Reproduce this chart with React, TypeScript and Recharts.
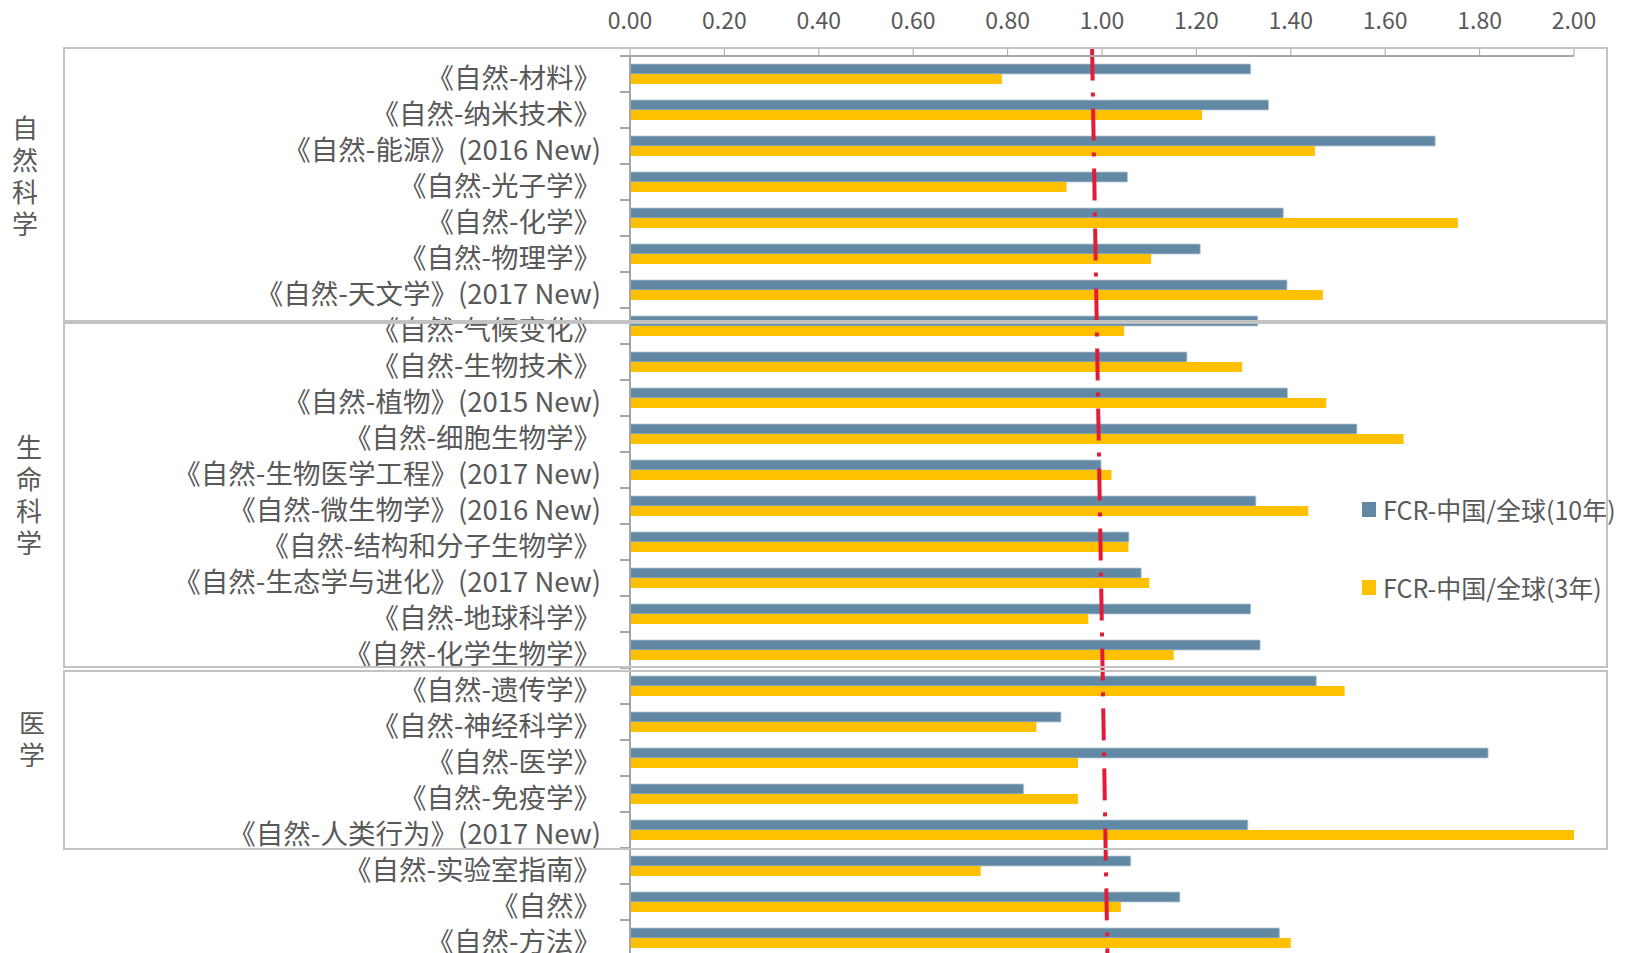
import React from "react";
import { Bar, BarChart, ReferenceLine, XAxis, YAxis } from "recharts";

// journal names, top to bottom
const CATEGORIES = [
  "《自然-材料》",
  "《自然-纳米技术》",
  "《自然-能源》(2016 New)",
  "《自然-光子学》",
  "《自然-化学》",
  "《自然-物理学》",
  "《自然-天文学》(2017 New)",
  "《自然-气候变化》",
  "《自然-生物技术》",
  "《自然-植物》(2015 New)",
  "《自然-细胞生物学》",
  "《自然-生物医学工程》(2017 New)",
  "《自然-微生物学》(2016 New)",
  "《自然-结构和分子生物学》",
  "《自然-生态学与进化》(2017 New)",
  "《自然-地球科学》",
  "《自然-化学生物学》",
  "《自然-遗传学》",
  "《自然-神经科学》",
  "《自然-医学》",
  "《自然-免疫学》",
  "《自然-人类行为》(2017 New)",
  "《自然-实验室指南》",
  "《自然》",
  "《自然-方法》",
];

const FCR_10Y = [
  1.315, 1.353, 1.706, 1.054, 1.384, 1.208, 1.392, 1.33, 1.18, 1.393, 1.54, 0.998, 1.326,
  1.057, 1.083, 1.315, 1.335, 1.454, 0.913, 1.818, 0.834, 1.309, 1.061, 1.165, 1.376,
];

const FCR_3Y = [
  0.788, 1.212, 1.451, 0.925, 1.754, 1.104, 1.468, 1.047, 1.297, 1.475, 1.639, 1.02, 1.437,
  1.056, 1.1, 0.971, 1.152, 1.514, 0.861, 0.949, 0.949, 2.0, 0.743, 1.04, 1.4,
];

const X_TICKS = [0, 0.2, 0.4, 0.6, 0.8, 1.0, 1.2, 1.4, 1.6, 1.8, 2.0];

const SERIES_10Y = "FCR-中国/全球(10年)";
const SERIES_3Y = "FCR-中国/全球(3年)";

// the hand-drawn "1.0" marker, slightly tilted; y in row units (0 = top of plot)
const MARKER_TOP = { x: 0.979, y: -0.2 };
const MARKER_BOTTOM = { x: 1.012, y: 24.35 };

const GROUP_NAMES = ["自然科学", "生命科学", "医学"];

const BLUE = "#6189a4";
const YELLOW = "#ffc000";
const TEXT = "#595959";
const AXIS = "#a6a6a6";
const FRAME = "#c3c3c3";
const FONT = '"Noto Sans CJK SC", "Noto Sans", sans-serif';

const BAND = 36;
const PLOT_TOP = 56;

// frames around the three subject groups, and where their vertical captions sit
const FRAMES = [
  { top: 47, bottom: 322 },
  { top: 322, bottom: 668 },
  { top: 670, bottom: 850 },
];
const CAPTIONS = [
  { cx: 25, firstY: 127 },
  { cx: 29, firstY: 446 },
  { cx: 32, firstY: 722 },
];

const data = CATEGORIES.map((name, i) => ({
  name,
  fcr10: FCR_10Y[i],
  fcr3: FCR_3Y[i],
}));

function CategoryTick(props: any) {
  const { x, y, payload, index } = props;
  return (
    <g>
      {index === 0 && <line x1={x - 10} x2={x} y1={y - BAND / 2} y2={y - BAND / 2} stroke={AXIS} strokeWidth={2} />}
      <line x1={x - 10} x2={x} y1={y + BAND / 2} y2={y + BAND / 2} stroke={AXIS} strokeWidth={2} />
      <text x={x - 29} y={y + 14} textAnchor="end" fontSize={27.5} fill={TEXT} fontFamily={FONT}>
        {payload.value}
      </text>
    </g>
  );
}

function LegendBox() {
  const items = [
    { label: SERIES_10Y, color: BLUE },
    { label: SERIES_3Y, color: YELLOW },
  ];
  return (
    <div style={{ position: "absolute", left: 1362, top: 494, fontFamily: FONT }}>
      {items.map((it, i) => (
        <div
          key={it.label}
          style={{ display: "flex", alignItems: "center", height: 30, marginTop: i === 0 ? 0 : 48 }}
        >
          <span style={{ width: 14, height: 15, background: it.color, marginRight: 7, flex: "none" }} />
          <span style={{ fontSize: 25, color: TEXT, whiteSpace: "nowrap" }}>{it.label}</span>
        </div>
      ))}
    </div>
  );
}

export default function App() {
  return (
    <div
      style={{
        position: "absolute",
        left: 0,
        top: 0,
        width: 1625,
        height: 953,
        overflow: "hidden",
        background: "#fff",
        fontFamily: FONT,
      }}
    >
      <BarChart
        width={1625}
        height={PLOT_TOP + BAND * CATEGORIES.length}
        data={data}
        layout="vertical"
        margin={{ top: 0, right: 51, bottom: 0, left: 0 }}
        barSize={10}
        barGap={0}
      >
        <XAxis
          type="number"
          orientation="top"
          domain={[0, 2]}
          ticks={X_TICKS}
          allowDataOverflow
          height={PLOT_TOP}
          tickFormatter={(v: number) => v.toFixed(2)}
          tick={{ fontSize: 23, fill: TEXT, fontFamily: FONT }}
          tickSize={8}
          tickMargin={19}
          tickLine={{ stroke: AXIS }}
          axisLine={{ stroke: AXIS, strokeWidth: 2 }}
        />
        <YAxis
          type="category"
          dataKey="name"
          width={630}
          interval={0}
          tickSize={0}
          tickMargin={0}
          tickLine={false}
          axisLine={{ stroke: AXIS, strokeWidth: 2 }}
          tick={<CategoryTick />}
        />
        <YAxis yAxisId="marker" type="number" domain={[0, CATEGORIES.length]} hide />
        <Bar dataKey="fcr10" name={SERIES_10Y} fill={BLUE} stroke="#b7c8d6" strokeWidth={0.8} isAnimationActive={false} />
        <Bar dataKey="fcr3" name={SERIES_3Y} fill={YELLOW} isAnimationActive={false} />
        <ReferenceLine
          yAxisId="marker"
          segment={[MARKER_TOP, MARKER_BOTTOM]}
          ifOverflow="visible"
          stroke="#e31b3a"
          strokeWidth={4}
          strokeDasharray="32 12 4 12"
        />
      </BarChart>

      <LegendBox />

      {FRAMES.map((f, i) => (
        <div
          key={i}
          style={{
            position: "absolute",
            left: 63,
            top: f.top,
            width: 1545,
            height: f.bottom - f.top,
            border: `2px solid ${FRAME}`,
            boxSizing: "border-box",
            pointerEvents: "none",
          }}
        />
      ))}

      {GROUP_NAMES.map((g, i) => (
        <div
          key={g}
          style={{
            position: "absolute",
            left: CAPTIONS[i].cx - 15,
            top: CAPTIONS[i].firstY - 16,
            width: 30,
            fontSize: 26,
            lineHeight: "32px",
            color: TEXT,
            textAlign: "center",
          }}
        >
          {g.split("").map((ch, k) => (
            <div key={k}>{ch}</div>
          ))}
        </div>
      ))}
    </div>
  );
}
